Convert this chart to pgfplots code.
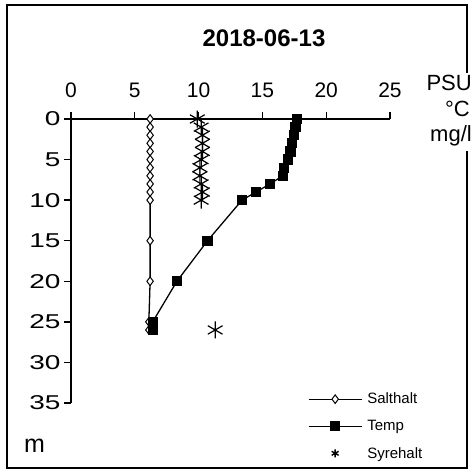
\documentclass[border=0pt]{standalone}
\usepackage{pgfplots}
\pgfplotsset{compat=1.18}
\usepackage{fontspec}
\setmainfont{Liberation Sans}
\newfontfamily\ywide[FakeStretch=1.4]{Liberation Sans}

\begin{document}
\begin{tikzpicture}
\useasboundingbox (-71bp,-71bp) rectangle (404bp,403bp);
\fill[white] (-71bp,-71bp) rectangle (404bp,403bp);
\draw[line width=1.2bp] (-64bp,-65bp) rectangle (396bp,398bp);
\begin{axis}[
    at={(0,0)}, anchor=south west,
    width=319bp, height=284bp, scale only axis,
    xmin=0, xmax=25, ymin=0, ymax=35,
    y dir=reverse,
    axis x line=top, axis y line=left,
    axis line style={-, line width=2.6bp},
    xtick={0,5,...,25}, ytick={0,5,...,35},
    tick align=outside, major tick length=7bp,
    tick style={black, line width=1.3bp},
    /pgf/number format/assume math mode=true,
    xticklabel style={font=\fontsize{21bp}{24bp}\selectfont, yshift=11bp},
    yticklabel style={font=\ywide\fontsize{20bp}{23bp}\selectfont, xshift=0bp},
    clip=false,
    legend style={draw=none, fill=none, at={(axis description cs:0.733,0.05)},
      anchor=north west, font=\fontsize{15bp}{17bp}\selectfont,
      row sep=11bp, /tikz/every odd column/.append style={column sep=3bp}},
    legend cell align=left,
    legend image code/.code={\draw[mark repeat=2,mark phase=2,#1] plot coordinates {(0bp,0bp) (26.5bp,0bp) (53bp,0bp)};},
]
\addplot[black, line width=1.3bp, mark=diamond*, mark size=4.3bp,
  mark options={fill=white, line width=1bp}] coordinates {
  (6.2,0) (6.2,1) (6.2,2) (6.2,3) (6.2,4) (6.2,5) (6.2,6) (6.2,7)
  (6.2,8) (6.2,9) (6.2,10) (6.2,15) (6.2,20) (6.1,25) (6.1,26)
};
\addlegendentry{Salthalt}
\addplot[black, line width=1.3bp, mark=square*, mark size=4.5bp] coordinates {
  (17.7,0) (17.6,1) (17.5,2) (17.3,3) (17.2,4) (17.0,5) (16.7,6) (16.6,7)
  (15.6,8) (14.5,9) (13.4,10) (10.7,15) (8.3,20) (6.4,25) (6.4,26)
};
\addlegendentry{Temp}
\addplot[black, only marks, mark=asterisk, mark size=8.5bp, line width=1.2bp,
  forget plot] coordinates {
  (9.9,0) (10.2,1) (10.3,2) (10.3,3) (10.3,4) (10.2,5) (10.1,6) (10.1,7)
  (10.2,8) (10.3,9) (10.2,10) (11.3,26)
};
\addlegendimage{black, only marks, mark=asterisk, mark size=4bp, line width=1.4bp}
\addlegendentry{Syrehalt}
\end{axis}
\node[anchor=base, font=\bfseries\fontsize{24bp}{28bp}\selectfont] at (193bp,356bp) {2018-06-13};
% the unit label box covers the frame
\fill[white] (388bp,252bp) rectangle (404bp,330bp);
\node[anchor=base east, inner sep=0pt, font=\fontsize{22bp}{25bp}\selectfont] at (401bp,312bp) {PSU};
\node[anchor=base east, inner sep=0pt, font=\fontsize{22bp}{25bp}\selectfont] at (399bp,286bp) {°C};
\node[anchor=base east, inner sep=0pt, font=\fontsize{22bp}{25bp}\selectfont] at (401bp,261bp) {mg/l};
\node[anchor=base west, inner sep=0pt, font=\fontsize{25bp}{28bp}\selectfont] at (-47bp,-49bp) {m};
\end{tikzpicture}
\end{document}
